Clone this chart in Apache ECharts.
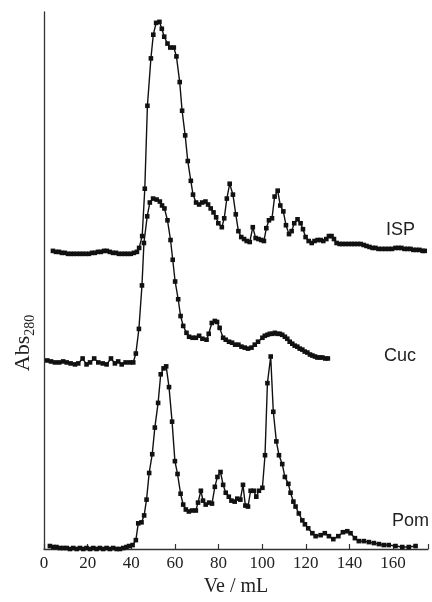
<!DOCTYPE html>
<html>
<head>
<meta charset="utf-8">
<script src="https://cdn.jsdelivr.net/npm/echarts@6/dist/echarts.min.js"></script>
<style>html,body{margin:0;padding:0;background:#fff}#c{width:432px;height:602px}</style>
</head>
<body>
<div id="c"></div>
<script>
// Elution volume (mL) and stacked Abs280 (arbitrary units, offset per trace)
const ispVe = [4.1,5.5,6.9,8.2,9.6,11.0,12.4,13.7,15.1,16.5,17.8,19.2,20.6,22.0,23.3,24.7,26.1,27.5,28.8,30.2,31.6,33.0,34.3,35.7,37.1,38.4,39.8,41.2,42.6,43.6,45.0,46.2,47.4,49.0,50.1,51.4,52.9,54.0,55.1,56.6,57.9,59.5,60.7,62.2,63.3,64.7,65.9,67.3,68.3,69.7,71.1,72.5,74.0,75.2,76.4,77.7,78.9,79.9,81.5,82.6,83.8,85.1,86.6,87.9,89.1,90.4,91.7,92.9,94.3,95.7,97.0,98.3,99.6,100.8,101.9,103.1,104.5,105.7,107.1,108.3,109.7,110.9,112.3,113.5,114.7,116.2,117.6,118.7,119.9,121.3,122.7,124.0,125.4,126.8,128.0,129.4,130.6,131.8,132.9,134.1,135.5,136.8,138.2,139.6,141.0,142.3,143.7,145.1,146.5,147.8,149.2,150.6,151.9,153.3,154.9,156.5,158.0,159.5,161.1,162.5,163.8,165.2,166.6,168.0,169.3,170.7,172.1,173.5,174.5];
const ispAbs = [3.02,3.01,3.01,3.00,3.00,2.99,2.99,2.99,2.99,2.99,2.99,2.99,2.99,3.00,3.00,3.01,3.01,3.02,3.02,3.01,3.00,3.00,2.99,2.99,2.99,2.99,2.99,3.00,3.01,3.05,3.17,3.65,4.49,4.97,5.21,5.33,5.34,5.27,5.19,5.12,5.08,5.08,4.99,4.73,4.44,4.19,3.93,3.73,3.59,3.51,3.49,3.51,3.52,3.49,3.45,3.41,3.36,3.30,3.26,3.35,3.55,3.70,3.59,3.39,3.22,3.16,3.14,3.12,3.11,3.26,3.15,3.14,3.13,3.12,3.25,3.33,3.35,3.57,3.63,3.48,3.42,3.28,3.19,3.22,3.30,3.34,3.30,3.24,3.16,3.12,3.10,3.12,3.13,3.13,3.12,3.14,3.17,3.17,3.14,3.10,3.09,3.09,3.09,3.09,3.09,3.09,3.09,3.09,3.08,3.07,3.06,3.05,3.05,3.04,3.04,3.04,3.04,3.04,3.05,3.05,3.05,3.04,3.04,3.04,3.03,3.03,3.03,3.02,3.02];

const cucVe = [1.5,3.2,5.0,7.0,8.8,10.4,12.2,14.2,15.7,17.7,19.5,21.1,23.0,24.9,26.9,28.7,30.7,32.5,34.0,35.6,37.4,39.4,40.9,42.1,43.5,44.9,45.8,47.3,48.5,50.0,51.6,53.1,54.1,55.2,56.6,58.0,59.0,60.1,61.5,62.6,63.8,65.3,66.5,68.1,69.6,71.1,72.6,74.5,75.5,76.9,78.3,79.3,80.5,82.1,83.3,84.8,86.2,87.6,89.1,90.5,92.0,93.5,95.1,96.6,98.1,100.1,101.2,102.4,103.5,104.7,105.8,107.0,108.1,109.2,110.4,111.5,112.6,113.8,114.9,116.1,117.2,118.4,119.5,120.7,121.9,123.0,124.2,125.3,126.5,127.6,128.9,130.1];
const cucAbs = [1.91,1.90,1.89,1.89,1.90,1.89,1.88,1.87,1.88,1.93,1.87,1.89,1.93,1.89,1.88,1.87,1.93,1.88,1.90,1.87,1.89,1.89,1.89,1.98,2.23,2.67,3.10,3.37,3.51,3.55,3.54,3.52,3.48,3.45,3.33,3.13,2.93,2.71,2.53,2.36,2.26,2.19,2.15,2.14,2.14,2.16,2.13,2.12,2.18,2.29,2.31,2.30,2.24,2.14,2.12,2.10,2.09,2.07,2.07,2.05,2.04,2.03,2.04,2.07,2.10,2.14,2.16,2.17,2.18,2.18,2.19,2.18,2.18,2.17,2.15,2.13,2.10,2.08,2.06,2.05,2.03,2.02,2.00,1.99,1.97,1.96,1.95,1.94,1.94,1.94,1.93,1.93];

const pomVe = [2.7,4.3,5.7,7.3,8.8,10.4,11.9,13.4,15.0,16.5,18.0,19.5,21.1,22.6,24.1,25.6,27.1,28.7,30.2,31.7,33.3,34.8,36.3,37.8,39.0,40.6,42.1,43.2,44.7,45.9,47.0,48.2,49.6,50.8,52.3,53.5,54.8,56.0,57.3,58.7,60.0,61.2,62.6,63.8,65.0,66.4,67.9,69.6,70.6,71.9,72.9,74.1,75.7,77.0,78.3,79.5,80.9,82.1,83.3,84.7,85.9,87.4,88.6,90.0,91.2,92.3,93.5,94.7,96.1,97.3,98.5,100.1,101.3,102.4,103.9,105.1,106.5,107.7,109.2,110.4,112.0,113.0,114.3,115.3,116.8,118.4,119.6,121.1,123.0,124.5,126.8,128.7,130.6,132.6,134.9,137.0,139.0,140.5,142.5,144.3,146.6,148.9,151.2,153.5,155.7,158.0,161.1,164.2,167.2,170.3];
const pomAbs = [0.03,0.02,0.02,0.01,0.01,0.01,0.00,0.01,0.00,0.01,0.00,0.01,0.00,0.01,0.00,0.01,0.00,0.01,0.00,0.01,0.00,0.00,0.01,0.02,0.03,0.04,0.09,0.26,0.27,0.34,0.50,0.77,0.96,1.23,1.48,1.77,1.83,1.85,1.64,1.29,0.89,0.76,0.56,0.45,0.40,0.38,0.39,0.39,0.47,0.59,0.49,0.45,0.47,0.46,0.63,0.73,0.78,0.65,0.57,0.53,0.49,0.48,0.51,0.50,0.65,0.44,0.43,0.59,0.59,0.53,0.59,0.62,0.95,1.68,1.95,1.39,1.09,0.95,0.86,0.73,0.66,0.57,0.48,0.43,0.36,0.29,0.25,0.21,0.16,0.13,0.14,0.16,0.13,0.10,0.13,0.17,0.18,0.16,0.11,0.08,0.08,0.07,0.06,0.05,0.04,0.04,0.03,0.02,0.02,0.03];

const xTicks = [0,20,40,60,80,100,120,140,160];
const traceNames = ['ISP','Cuc','Pom'];

const pair = (xs, ys) => xs.map((x, i) => [x, ys[i]]);
const lineStyle = {color:'#111', width:1.4};
const mkSeries = (name, xs, ys) => ({
  name, type:'line', data: pair(xs, ys),
  symbol:'rect', symbolSize:4.6, showSymbol:true,
  itemStyle:{color:'#111'}, lineStyle, animation:false, z:3
});

const chart = echarts.init(document.getElementById('c'), null, {renderer:'canvas'});
chart.setOption({
  backgroundColor:'#fff',
  animation:false,
  grid:{left:44, right:4, top:12, bottom:46},
  xAxis:{
    type:'value', min:0, max:176, interval:20,
    axisLine:{lineStyle:{color:'#333', width:1.3}},
    axisTick:{inside:true, length:5, lineStyle:{color:'#333', width:1.2}},
    axisLabel:{fontFamily:'Liberation Serif', fontSize:17, color:'#222', margin:6,
      formatter: v => xTicks.includes(v) ? String(v) : ''},
    splitLine:{show:false},
    name:'Ve / mL', nameLocation:'middle', nameGap:28,
    nameTextStyle:{fontFamily:'Liberation Serif', fontSize:20, color:'#222'}
  },
  yAxis:{
    type:'value', min:0, max:5.44, offset:2,
    axisLine:{show:true, lineStyle:{color:'#333', width:1.3}},
    axisTick:{show:false}, axisLabel:{show:false}, splitLine:{show:false}
  },
  series:[
    mkSeries(traceNames[0], ispVe, ispAbs),
    mkSeries(traceNames[1], cucVe, cucAbs),
    mkSeries(traceNames[2], pomVe, pomAbs)
  ],
  graphic:[
    {type:'text', left:386, top:221, style:{text:traceNames[0], font:'18px "Liberation Sans"', fill:'#222'}},
    {type:'text', left:384, top:347, style:{text:traceNames[1], font:'18px "Liberation Sans"', fill:'#222'}},
    {type:'text', left:392, top:512, style:{text:traceNames[2], font:'18px "Liberation Sans"', fill:'#222'}},
    {type:'text', x:23, y:343, rotation:Math.PI/2,
      style:{text:'{a|Abs}{b|280}', align:'center', verticalAlign:'middle',
        rich:{a:{fontFamily:'Liberation Serif', fontSize:22, fill:'#222', verticalAlign:'bottom'},
              b:{fontFamily:'Liberation Serif', fontSize:14, fill:'#222', verticalAlign:'bottom', padding:[0,0,-3,0]}}}}
  ]
});
</script>
</body>
</html>
